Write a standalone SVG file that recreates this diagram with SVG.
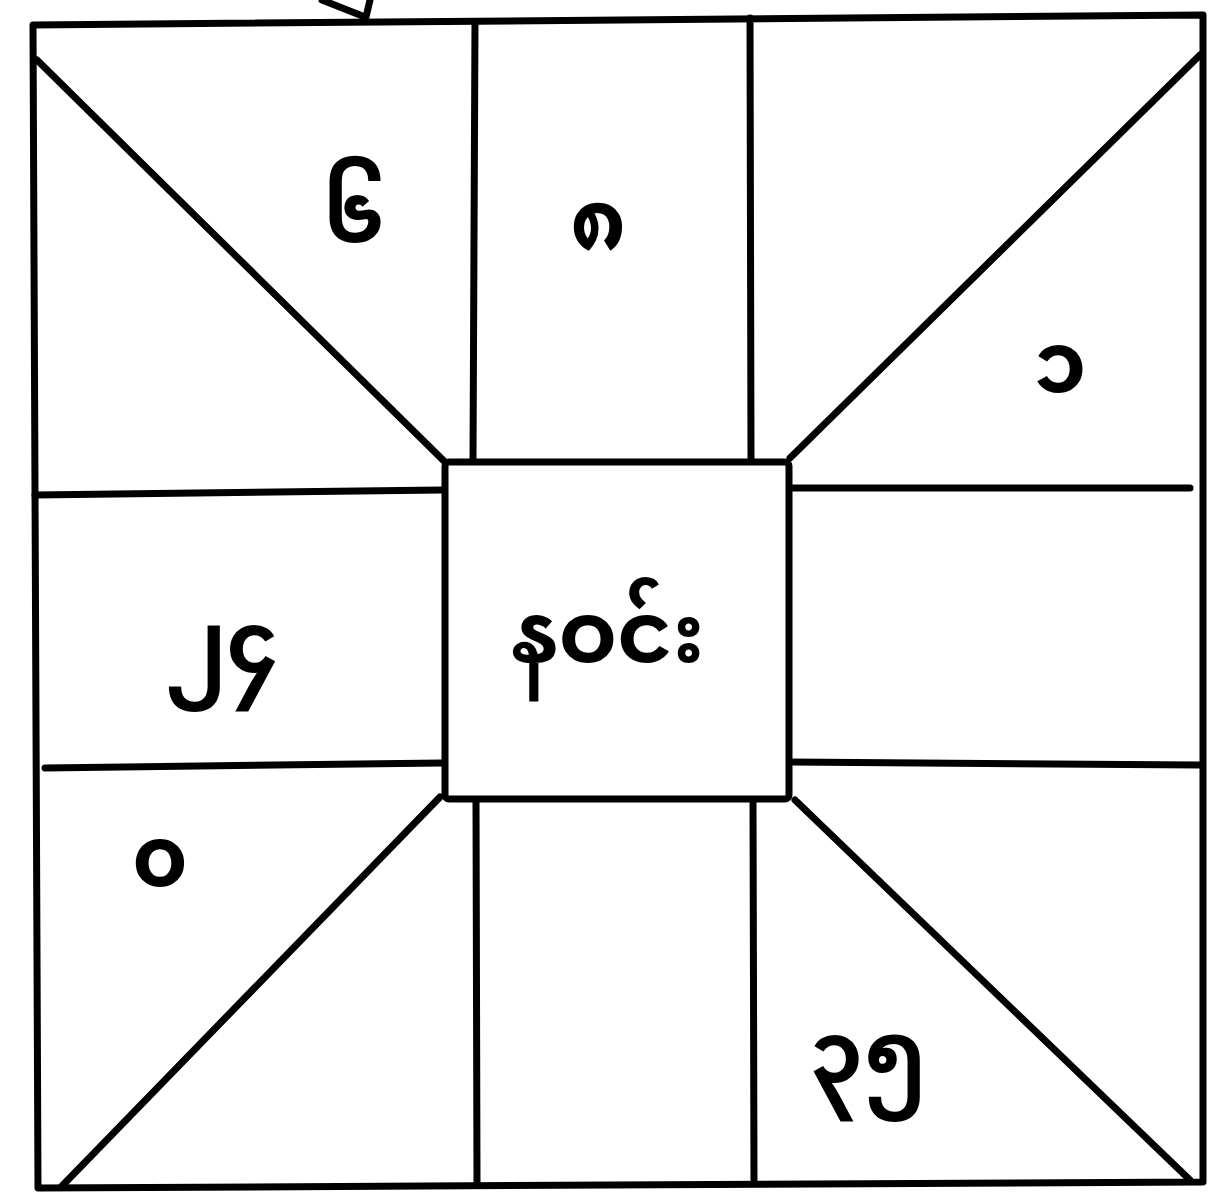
<svg xmlns="http://www.w3.org/2000/svg" width="1225" height="1192" viewBox="0 0 1225 1192">
<style>
.ln{stroke:#000;stroke-width:7;fill:none;stroke-linecap:round;stroke-linejoin:round}
.t{font-family:"Noto Sans Myanmar","Padauk","Myanmar Text","Noto Sans",sans-serif;font-size:84px;font-weight:bold;fill:#000;text-anchor:middle;dominant-baseline:central}
</style>
<rect width="1225" height="1192" fill="#fff"/>
<g id="connectors">
<polygon class="ln" points="33,25 1203,15 1203,1182 38,1188"/>
<line class="ln" x1="475" y1="22" x2="473" y2="460"/>
<line class="ln" x1="750" y1="18" x2="751" y2="458"/>
<line class="ln" x1="476" y1="800" x2="477" y2="1182"/>
<line class="ln" x1="753" y1="800" x2="754" y2="1180"/>
<line class="ln" x1="35" y1="495" x2="442" y2="490"/>
<line class="ln" x1="45" y1="768" x2="442" y2="763"/>
<line class="ln" x1="790" y1="488" x2="1190" y2="488"/>
<line class="ln" x1="790" y1="762" x2="1200" y2="765"/>
<line class="ln" x1="37" y1="60" x2="445" y2="462"/>
<line class="ln" x1="1200" y1="55" x2="790" y2="458"/>
<line class="ln" x1="440" y1="797" x2="62" y2="1186"/>
<line class="ln" x1="795" y1="800" x2="1190" y2="1180"/>
<line class="ln" x1="322" y1="0" x2="365" y2="17"/>
<line class="ln" x1="370" y1="0" x2="366" y2="17"/>
</g>
<g id="center">
<rect class="ln" x="445" y="462" width="344" height="337" rx="4"/>
<text class="t" x="608" y="642">နဝင်း</text>
</g>
<g id="n1"><text class="t" x="355" y="222">၆</text></g>
<g id="n2"><text class="t" x="598" y="230">၈</text></g>
<g id="n3"><text class="t" x="1060" y="372">၁</text></g>
<g id="n4"><text class="t" x="222" y="652">၂၄</text></g>
<g id="n5"><text class="t" x="160" y="866">၀</text></g>
<g id="n6"><text class="t" x="868" y="1062">၃၅</text></g>
</svg>
